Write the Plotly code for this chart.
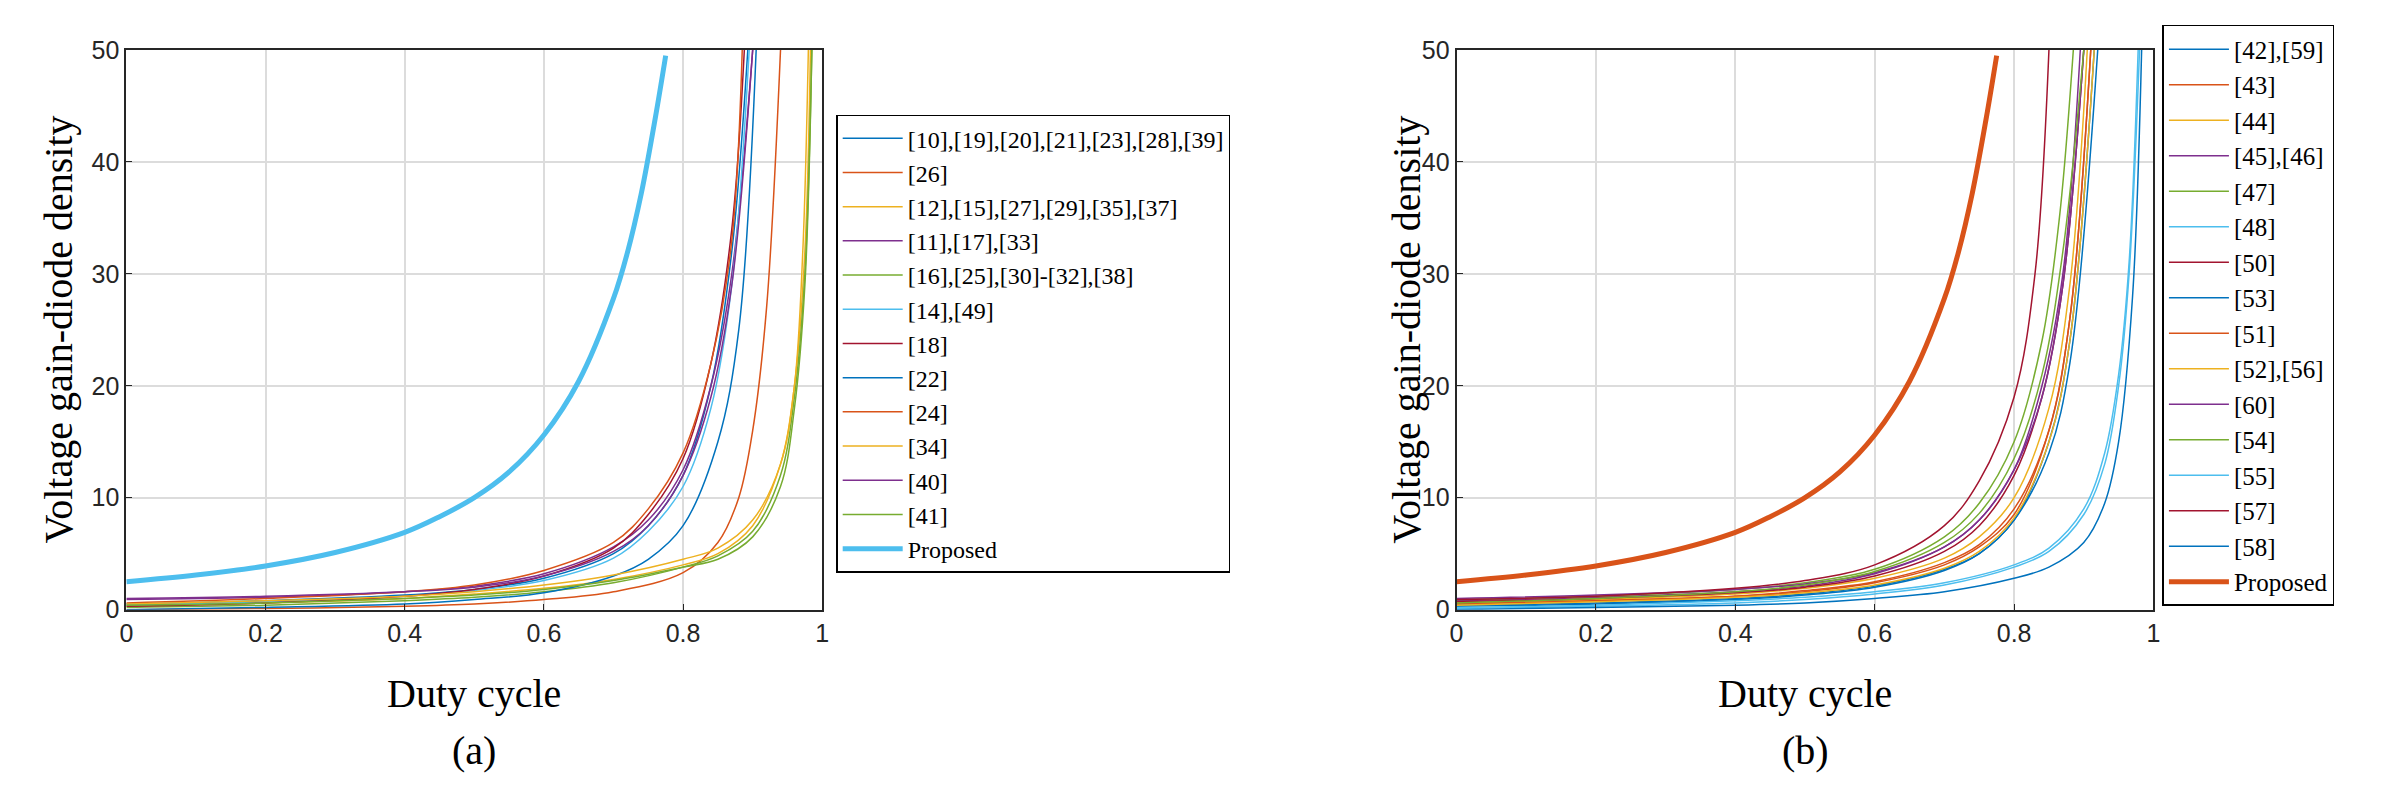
import plotly.graph_objects as go

# ---------- data ----------
names_a = ["[10],[19],[20],[21],[23],[28],[39]", "[26]", "[12],[15],[27],[29],[35],[37]",
           "[11],[17],[33]", "[16],[25],[30]-[32],[38]", "[14],[49]", "[18]", "[22]", "[24]",
           "[34]", "[40]", "[41]", "Proposed"]
x_a = [
    [0, 0.2, 0.4, 0.5, 0.6, 0.7, 0.75, 0.8, 0.84, 0.87, 0.893],
    [0, 0.2, 0.4, 0.5, 0.6, 0.7, 0.8, 0.85, 0.88, 0.9, 0.92, 0.94],
    [0, 0.2, 0.4, 0.5, 0.6, 0.7, 0.8, 0.85, 0.9, 0.94, 0.96, 0.975, 0.983],
    [0, 0.2, 0.4, 0.5, 0.6, 0.7, 0.75, 0.8, 0.84, 0.87, 0.9],
    [0, 0.2, 0.4, 0.5, 0.6, 0.7, 0.8, 0.85, 0.9, 0.94, 0.96, 0.975, 0.985],
    [0, 0.2, 0.4, 0.5, 0.6, 0.7, 0.75, 0.8, 0.84, 0.87, 0.895],
    [0, 0.2, 0.4, 0.5, 0.6, 0.7, 0.75, 0.8, 0.84, 0.87, 0.888],
    [0, 0.2, 0.4, 0.5, 0.6, 0.7, 0.75, 0.8, 0.85, 0.88, 0.905],
    [0, 0.2, 0.4, 0.5, 0.6, 0.7, 0.75, 0.8, 0.84, 0.87, 0.885],
    [0, 0.2, 0.4, 0.5, 0.6, 0.7, 0.8, 0.85, 0.9, 0.94, 0.96, 0.972, 0.98],
    [0, 0.2, 0.4, 0.5, 0.6, 0.7, 0.75, 0.8, 0.84, 0.87, 0.9],
    [0, 0.2, 0.4, 0.5, 0.6, 0.7, 0.8, 0.85, 0.9, 0.94, 0.96, 0.975, 0.985],
    [0, 0.1, 0.2, 0.3, 0.4, 0.45, 0.5, 0.55, 0.6, 0.65, 0.7, 0.72, 0.74, 0.76, 0.775],
]
y_a = [
    [0.5, 0.8, 1.3, 1.8, 2.8, 5.0, 7.5, 12, 20, 32, 50],
    [0.0, 0.1, 0.3, 0.5, 0.9, 1.6, 3.3, 6, 10, 16, 27, 50],
    [0.3, 0.6, 1.0, 1.4, 1.9, 2.7, 4.0, 5.0, 7.5, 13, 20, 32, 50],
    [0.9, 1.1, 1.6, 2.1, 3.2, 5.6, 8.0, 12.5, 20, 30, 50],
    [0.2, 0.4, 0.8, 1.1, 1.6, 2.4, 3.8, 4.8, 7.0, 12, 19, 30, 50],
    [0.4, 0.7, 1.2, 1.7, 2.6, 4.6, 7.0, 11, 18, 29, 50],
    [0.3, 0.6, 1.2, 1.8, 3.0, 5.5, 8.5, 13.5, 22, 34, 50],
    [0.0, 0.2, 0.5, 0.9, 1.5, 3.0, 4.5, 7.5, 15, 25, 50],
    [0.6, 1.0, 1.6, 2.2, 3.5, 6.0, 9.0, 14, 22, 33, 50],
    [0.5, 0.8, 1.2, 1.6, 2.2, 3.1, 4.5, 5.5, 8.0, 13, 20, 32, 50],
    [1.0, 1.2, 1.6, 2.0, 3.0, 5.2, 7.5, 12, 19, 29, 50],
    [0.4, 0.6, 1.0, 1.3, 1.8, 2.6, 3.8, 4.5, 6.5, 11, 18, 29, 50],
    [2.5, 3.1, 3.9, 5.1, 6.9, 8.3, 10, 12.3, 15.6, 20.4, 27.8, 31.9, 37.2, 43.9, 49.5],
]
colors_a = ["#0072BD", "#D95319", "#EDB120", "#7E2F8E", "#77AC30", "#4DBEEE", "#A2142F",
            "#0072BD", "#D95319", "#EDB120", "#7E2F8E", "#77AC30", "#4DBEEE"]

names_b = ["[42],[59]", "[43]", "[44]", "[45],[46]", "[47]", "[48]", "[50]", "[53]", "[51]",
           "[52],[56]", "[60]", "[54]", "[55]", "[57]", "[58]", "Proposed"]
x_b = [
    [0, 0.2, 0.4, 0.5, 0.6, 0.7, 0.75, 0.8, 0.85, 0.88, 0.915],
    [0, 0.2, 0.4, 0.5, 0.6, 0.7, 0.75, 0.8, 0.85, 0.88, 0.91],
    [0, 0.2, 0.4, 0.5, 0.6, 0.7, 0.75, 0.8, 0.85, 0.88, 0.905],
    [0, 0.2, 0.4, 0.5, 0.6, 0.7, 0.75, 0.8, 0.84, 0.87, 0.895],
    [0, 0.2, 0.4, 0.5, 0.6, 0.7, 0.75, 0.8, 0.84, 0.865, 0.885],
    [0, 0.2, 0.4, 0.5, 0.6, 0.7, 0.8, 0.85, 0.9, 0.93, 0.95, 0.965, 0.978],
    [0, 0.2, 0.4, 0.5, 0.6, 0.7, 0.75, 0.8, 0.84, 0.87, 0.9],
    [0, 0.2, 0.4, 0.5, 0.6, 0.7, 0.75, 0.8, 0.85, 0.88, 0.92],
    [0, 0.2, 0.4, 0.5, 0.6, 0.7, 0.75, 0.8, 0.85, 0.88, 0.91],
    [0, 0.2, 0.4, 0.5, 0.6, 0.7, 0.75, 0.8, 0.85, 0.88, 0.915],
    [0, 0.2, 0.4, 0.5, 0.6, 0.7, 0.75, 0.8, 0.84, 0.87, 0.9],
    [0, 0.2, 0.4, 0.5, 0.6, 0.7, 0.75, 0.8, 0.84, 0.87, 0.9],
    [0, 0.2, 0.4, 0.5, 0.6, 0.7, 0.8, 0.85, 0.9, 0.93, 0.95, 0.965, 0.98],
    [0, 0.2, 0.4, 0.5, 0.6, 0.7, 0.75, 0.8, 0.83, 0.85],
    [0, 0.2, 0.4, 0.5, 0.6, 0.7, 0.8, 0.85, 0.9, 0.93, 0.95, 0.97, 0.983],
    [0, 0.1, 0.2, 0.3, 0.4, 0.45, 0.5, 0.55, 0.6, 0.65, 0.7, 0.72, 0.74, 0.76, 0.775],
]
y_b = [
    [0.3, 0.5, 0.9, 1.3, 2.0, 3.5, 5.0, 8.0, 15, 24, 50],
    [0.5, 0.8, 1.2, 1.6, 2.4, 4.0, 5.6, 8.5, 16, 26, 50],
    [0.6, 0.9, 1.4, 1.9, 2.8, 4.6, 6.5, 10, 18, 29, 50],
    [0.8, 1.1, 1.6, 2.1, 3.2, 5.6, 8.0, 12.5, 20, 30, 50],
    [0.9, 1.2, 1.8, 2.4, 3.6, 6.5, 9.5, 15, 24, 35, 50],
    [0.2, 0.4, 0.8, 1.1, 1.6, 2.4, 4.0, 5.5, 9.0, 14, 21, 31, 50],
    [0.7, 1.0, 1.5, 2.0, 3.0, 5.2, 7.5, 12, 19, 29, 50],
    [0.4, 0.6, 1.0, 1.4, 2.1, 3.6, 5.0, 8.0, 14, 22, 50],
    [0.5, 0.8, 1.2, 1.7, 2.5, 4.2, 5.8, 9.0, 16, 26, 50],
    [0.4, 0.7, 1.1, 1.5, 2.2, 3.7, 5.2, 8.2, 15, 24, 50],
    [1.0, 1.3, 1.8, 2.3, 3.3, 5.6, 8.0, 12.5, 19, 29, 50],
    [0.6, 1.0, 1.6, 2.2, 3.4, 6.0, 8.6, 13.5, 21, 32, 50],
    [0.1, 0.3, 0.6, 0.9, 1.4, 2.2, 3.8, 5.2, 8.5, 13, 20, 30, 50],
    [0.9, 1.2, 1.9, 2.6, 4.0, 7.5, 11.5, 19, 30, 50],
    [0.0, 0.2, 0.4, 0.6, 1.0, 1.6, 2.8, 3.8, 6.0, 9.5, 15, 28, 50],
    [2.5, 3.1, 3.9, 5.1, 6.9, 8.3, 10, 12.3, 15.6, 20.4, 27.8, 31.9, 37.2, 43.9, 49.5],
]
colors_b = ["#0072BD", "#D95319", "#EDB120", "#7E2F8E", "#77AC30", "#4DBEEE", "#A2142F",
            "#0072BD", "#D95319", "#EDB120", "#7E2F8E", "#77AC30", "#4DBEEE", "#A2142F",
            "#0072BD", "#D95319"]

x_ticks = [0, 0.2, 0.4, 0.6, 0.8, 1]
y_ticks = [0, 10, 20, 30, 40, 50]

# ---------- figure ----------
fig = go.Figure()
for i, n in enumerate(names_a):
    prop = n == "Proposed"
    fig.add_trace(go.Scatter(x=x_a[i], y=y_a[i], name=n, mode="lines",
                             line=dict(color=colors_a[i], width=5 if prop else 1.5, shape="spline", smoothing=1.0),
                             xaxis="x", yaxis="y", legend="legend"))
for i, n in enumerate(names_b):
    prop = n == "Proposed"
    fig.add_trace(go.Scatter(x=x_b[i], y=y_b[i], name=n, mode="lines",
                             line=dict(color=colors_b[i], width=5 if prop else 1.5, shape="spline", smoothing=1.0),
                             xaxis="x2", yaxis="y2", legend="legend2"))

W, H = 2405, 798
ydom = [1 - 609 / H, 1 - 29 / H]
ax = dict(range=[0, 1], tickvals=x_ticks, ticktext=["0", "0.2", "0.4", "0.6", "0.8", "1"],
          showgrid=True, gridcolor="#dcdcdc", gridwidth=1.5, zeroline=False,
          showline=True, linecolor="#262626", linewidth=2, mirror=True, ticks="inside",
          ticklen=6, tickcolor="#262626", tickfont=dict(family="Liberation Sans", size=25, color="#262626"))
ay = dict(ax, range=[0, 50], tickvals=y_ticks, ticktext=[str(v) for v in y_ticks])
fig.update_layout(
    width=W, height=H, margin=dict(l=0, r=0, t=0, b=0), plot_bgcolor="white", paper_bgcolor="white",
    xaxis=dict(ax, domain=[112 / W, 812 / W], anchor="y"),
    yaxis=dict(ay, domain=ydom, anchor="x"),
    xaxis2=dict(ax, domain=[1450 / W, 2151 / W], anchor="y2"),
    yaxis2=dict(ay, domain=ydom, anchor="x2"),
    legend=dict(x=826 / W, y=1 - 96 / H, xanchor="left", yanchor="top", bordercolor="black", borderwidth=1.5,
                font=dict(family="Liberation Serif", size=24, color="black"), tracegroupgap=0, itemwidth=60,
                bgcolor="white"),
    legend2=dict(x=2160 / W, y=1 - 3 / H, xanchor="left", yanchor="top", bordercolor="black", borderwidth=1.5,
                 font=dict(family="Liberation Serif", size=25, color="black"), tracegroupgap=0, itemwidth=60,
                 bgcolor="white"),
    showlegend=True,
)
tf = dict(family="Liberation Serif", size=40, color="black")
ann = []
for cx, lab, yx in [((112 + 812) / 2 / W, "(a)", 44 / W), ((1450 + 2151) / 2 / W, "(b)", 1400 / W)]:
    ann.append(dict(x=cx, y=1 - 696 / H, xref="paper", yref="paper", text="Duty cycle", showarrow=False,
                    font=tf, xanchor="center", yanchor="middle"))
    ann.append(dict(x=cx, y=1 - 755 / H, xref="paper", yref="paper", text=lab, showarrow=False,
                    font=tf, xanchor="center", yanchor="middle"))
    ann.append(dict(x=yx, y=(ydom[0] + ydom[1]) / 2, xref="paper", yref="paper", text="Voltage gain-diode density",
                    textangle=-90, showarrow=False, font=tf, xanchor="center", yanchor="middle"))
fig.update_layout(annotations=ann)
fig.write_html("out.html")
